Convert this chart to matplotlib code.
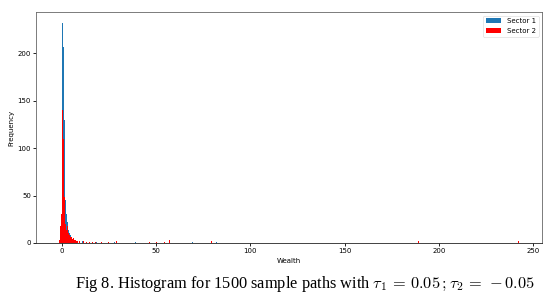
import matplotlib
matplotlib.use("Agg")
import matplotlib.pyplot as plt
import numpy as np

# Sector 1 histogram (bin centers, counts), bin width 0.5
s1_centers = [-0.75, -0.25, 0.25, 0.75, 1.25, 1.75, 2.25, 2.75, 3.25, 3.75,
              4.25, 4.75, 5.25, 6.25, 6.75, 8.25, 11.25, 18.25, 24.75, 28.25,
              39.25, 69.25, 82.25]
s1_counts = [6, 28, 232, 207, 130, 58, 45, 30, 22, 14,
             10, 8, 5, 4, 3, 2, 2, 1, 1, 1,
             1, 1, 1]
s1_width = 0.5

# Sector 2 histogram (bin centers, counts), bin width 0.5
s2_centers = [-1.25, -0.75, -0.25, 0.25, 0.75, 1.25, 1.75, 2.25, 2.75, 3.25,
              3.75, 4.25, 4.75, 5.25, 5.75, 6.25, 6.75, 7.25, 7.75, 8.25,
              9.25, 10.25, 11.75, 13.25, 14.75, 16.25, 17.75, 19.25, 21.25, 24.75,
              29.25, 36.75, 46.75, 50.25, 54.75, 57.25, 79.25, 189.25, 242.25]
s2_counts = [3, 18, 30, 140, 110, 48, 30, 20, 14, 18,
             10, 8, 6, 6, 4, 5, 3, 3, 2, 2,
             2, 1, 2, 1, 1, 1, 1, 4, 1, 1,
             2, 2, 1, 1, 1, 3, 2, 2, 2]
s2_width = 0.5

def edges(centers, w):
    c = np.asarray(centers)
    lo, hi = c.min() - w / 2, c.max() + w / 2
    return np.arange(lo, hi + w / 2, w)

fig = plt.figure(figsize=(5.6, 3.01), dpi=100)
ax = fig.add_axes([0.064, 0.193, 0.904, 0.767])

ax.hist(s1_centers, bins=edges(s1_centers, s1_width), weights=s1_counts,
        color="#1f77b4", label="Sector 1")
ax.hist(s2_centers, bins=edges(s2_centers, s2_width), weights=s2_counts,
        color="red", label="Sector 2")

ax.set_xticks([0, 50, 100, 150, 200, 250])
ax.set_yticks([0, 50, 100, 150, 200])
ax.tick_params(labelsize=5, length=2, width=0.6, pad=1.5)
ax.set_xlabel("Wealth", fontsize=5, labelpad=3)
ax.set_ylabel("Frequency", fontsize=5, labelpad=2)
for s in ax.spines.values():
    s.set_linewidth(0.6)
    s.set_color("#666666")
ax.spines["bottom"].set_color("#222222")
leg = ax.legend(loc="upper right", fontsize=5, frameon=True, handlelength=2.2)
leg.get_frame().set_linewidth(0.4)

plt.rcParams["mathtext.fontset"] = "cm"
fig.text(0.545, 0.058, r"Fig 8. Histogram for 1500 sample paths with $\tau_1\, =\, 0.05\,;\tau_2\, =\, -0.05$",
         ha="center", va="center", fontsize=11.8, family="Liberation Serif")

fig.savefig("out.png", dpi=100)
